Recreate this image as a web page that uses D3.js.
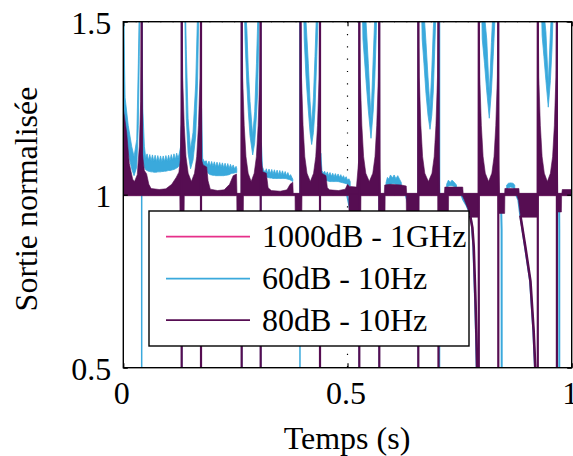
<!DOCTYPE html>
<html><head><meta charset="utf-8">
<script src="https://cdn.jsdelivr.net/npm/d3@7"></script>
</head><body style="margin:0"><svg id="c" width="573" height="456" font-family="Liberation Serif" style="font-family:'Liberation Serif',serif"></svg>
<script>
// ---------- data ----------
const xTicks = [0, 0.5, 1];
const yTicks = [0.5, 1, 1.5];
const seriesNames = ["1000dB - 1GHz", "60dB - 10Hz", "80dB - 10Hz"];
const seriesColors = ["#e6308a", "#3aa9dc", "#560d52"];
const xTitle = "Temps (s)";
const yTitle = "Sortie normalisée";

// 1000dB - 1GHz
const pinkLine = [[0, 1], [1, 1]];

// 80dB - 10Hz : upper envelope (filled down to 1)
const purpleUpper = [
 [0,1.25],[0.0075,1.18],[0.0134,1.09],[0.0209,1.045],[0.025,1.038],[0.0312,1.058],[0.0357,1.14],[0.0388,1.27],[0.0405,1.55],
 [0.0415,1.55],[0.0425,1.12],[0.047,1.07],[0.052,1.06],[0.057,1.03],[0.062,1.018],[0.08,1.015],[0.095,1.017],[0.108,1.03],[0.118,1.05],[0.124,1.065],[0.127,1.10],[0.1295,1.25],[0.1302,1.55],
 [0.1312,1.55],[0.1324,1.34],[0.1359,1.20],[0.1398,1.11],[0.1447,1.062],[0.1518,1.038],[0.1588,1.062],[0.1637,1.11],[0.1676,1.20],[0.1711,1.34],[0.1723,1.55],
 [0.1733,1.55],[0.1745,1.10],[0.178,1.086],[0.186,1.08],[0.189,1.04],[0.194,1.016],[0.21,1.012],[0.225,1.014],[0.237,1.03],[0.245,1.055],[0.2525,1.06],[0.2535,1.004],[0.2625,1.004],[0.2635,1.55],
 [0.2648,1.55],[0.2662,1.34],[0.2697,1.20],[0.2736,1.11],[0.2785,1.062],[0.2852,1.038],[0.2919,1.062],[0.2968,1.11],[0.3007,1.20],[0.3042,1.34],[0.3056,1.55],
 [0.3064,1.55],[0.308,1.10],[0.311,1.066],[0.319,1.062],[0.323,1.02],[0.33,1.012],[0.35,1.010],[0.365,1.014],[0.372,1.03],[0.378,1.036],[0.379,1.004],[0.394,1.004],[0.3946,1.55],
 [0.396,1.55],[0.3974,1.34],[0.4009,1.20],[0.4048,1.11],[0.4097,1.062],[0.417,1.038],[0.4243,1.062],[0.4292,1.11],[0.4331,1.20],[0.4366,1.34],[0.4379,1.55],
 [0.4387,1.55],[0.440,1.10],[0.4425,1.062],[0.452,1.055],[0.455,1.02],[0.46,1.014],[0.48,1.012],[0.495,1.016],[0.5,1.03],[0.505,1.024],[0.52,1.022],[0.525,1.10],[0.5258,1.55],
 [0.5271,1.55],[0.5285,1.34],[0.532,1.20],[0.5359,1.11],[0.5408,1.062],[0.5486,1.038],[0.5564,1.062],[0.5613,1.11],[0.5652,1.20],[0.5687,1.34],[0.5701,1.55],
 [0.5709,1.55],[0.5722,1.10],[0.5735,1.004],[0.582,1.004],[0.583,1.028],[0.595,1.03],[0.62,1.028],[0.631,1.025],[0.632,1.004],[0.657,1.004],[0.6575,1.55],
 [0.6587,1.55],[0.6601,1.34],[0.6636,1.20],[0.6675,1.11],[0.6724,1.062],[0.6804,1.038],[0.6884,1.062],[0.6933,1.11],[0.6972,1.20],[0.7007,1.34],[0.7021,1.55],
 [0.7029,1.55],[0.7042,1.10],[0.7055,1.004],[0.716,1.004],[0.717,1.022],[0.757,1.022],[0.758,1.004],[0.7915,1.004],[0.7922,1.55],
 [0.7936,1.55],[0.795,1.34],[0.7985,1.20],[0.8024,1.11],[0.8073,1.062],[0.8146,1.038],[0.8219,1.062],[0.8268,1.11],[0.8307,1.20],[0.8342,1.34],[0.8355,1.55],
 [0.8363,1.55],[0.8375,1.10],[0.839,1.004],[0.8505,1.004],[0.851,1.018],[0.8823,1.018],[0.883,1.004],[0.923,1.004],[0.9238,1.55],
 [0.9252,1.55],[0.9266,1.34],[0.9301,1.20],[0.934,1.11],[0.9389,1.062],[0.9457,1.038],[0.9525,1.062],[0.9574,1.11],[0.9613,1.20],[0.9648,1.34],[0.9662,1.55],
 [0.967,1.55],[0.968,1.10],[0.969,1.004],[0.978,1.004],[0.979,1.015],[1.0,1.015]
];
// 80dB - 10Hz : lower envelope (filled up to 1)
const purpleLower = [
 [0,0.997],[0.126,0.997],[0.1265,0.92],[0.1355,0.92],[0.136,0.997],
 [0.253,0.997],[0.2535,0.92],[0.2676,0.92],[0.268,0.997],
 [0.383,0.997],[0.3835,0.92],[0.398,0.92],[0.3985,0.997],
 [0.503,0.997],[0.5035,0.92],[0.5295,0.92],[0.53,0.997],
 [0.5705,0.997],[0.571,0.92],[0.5835,0.92],[0.584,0.997],
 [0.631,0.997],[0.6315,0.92],[0.6585,0.92],[0.659,0.997],
 [0.7025,0.997],[0.703,0.92],[0.725,0.92],[0.7255,0.997],
 [0.756,0.997],[0.7605,0.985],[0.7675,0.962],[0.7745,0.935],[0.7925,0.935],[0.793,0.997],
 [0.8363,0.997],[0.8368,0.946],[0.8505,0.946],[0.851,0.997],
 [0.878,0.997],[0.8815,0.983],[0.886,0.935],[0.9244,0.935],[0.925,0.997],
 [0.9675,0.997],[0.968,0.95],[0.977,0.95],[0.9775,0.997],[1,0.997]
];
// 80dB - 10Hz : falling branches below the filled part
const purpleFallC = [[0.7735,0.94],[0.7785,0.905],[0.7815,0.85],[0.7852,0.705],[0.7874,0.60],[0.789,0.50],[0.7893,0.45]];
const purpleFallE = [[0.8855,0.94],[0.897,0.846],[0.908,0.75],[0.9152,0.605],[0.9188,0.50],[0.92,0.45]];
// 80dB - 10Hz : jumps through the singularities
const purpleWalls = [0.1302,0.1733,0.2640,0.3064,0.4387,0.5263,0.5709,0.6579,0.7029,0.7928,0.8363,0.9244,0.9670];
const purpleWallsUpper = [0.041,0.3952];

// 60dB - 10Hz : band [t, low, high]; null separates pieces
const blueBand = [
 [0.001,1.20,1.50],[0.004,1.18,1.28],[0.011,1.12,1.20],[0.0187,1.075,1.14],[0.024,1.055,1.11],[0.030,1.08,1.16],[0.0335,1.20,1.38],[0.0357,1.40,1.55],[0.037,1.55,1.55],
 null,
 [0.0415,1.20,1.55],[0.0435,1.10,1.25],[0.047,1.08,1.14],[0.050,1.072,1.105],[0.053,1.07,1.118],[0.056,1.068,1.100],[0.059,1.067,1.116],[0.062,1.066,1.098],[0.065,1.066,1.115],[0.068,1.065,1.097],[0.071,1.065,1.114],[0.074,1.065,1.096],[0.077,1.066,1.113],[0.080,1.066,1.095],[0.083,1.066,1.112],[0.086,1.067,1.095],[0.089,1.067,1.112],[0.092,1.068,1.096],[0.095,1.068,1.113],[0.098,1.069,1.097],[0.101,1.07,1.114],[0.104,1.07,1.098],[0.107,1.071,1.116],[0.110,1.072,1.10],[0.113,1.073,1.118],[0.116,1.075,1.102],[0.119,1.077,1.12],[0.122,1.08,1.105],[0.125,1.085,1.12],[0.128,1.10,1.14],[0.1295,1.15,1.20],
 null,
 [0.137,1.55,1.55],[0.1385,1.40,1.55],[0.1405,1.22,1.42],[0.1445,1.12,1.22],[0.150,1.075,1.13],[0.1555,1.10,1.18],[0.1615,1.17,1.32],[0.1655,1.32,1.52],[0.1680,1.50,1.55],[0.169,1.55,1.55],
 null,
 [0.1745,1.10,1.25],[0.177,1.086,1.105],[0.181,1.084,1.095],[0.185,1.08,1.098],[0.188,1.065,1.085],[0.191,1.06,1.097],[0.194,1.058,1.083],[0.197,1.057,1.096],[0.200,1.056,1.082],[0.203,1.056,1.095],[0.206,1.055,1.081],[0.209,1.055,1.094],[0.212,1.055,1.080],[0.215,1.055,1.093],[0.218,1.055,1.079],[0.221,1.055,1.092],[0.224,1.055,1.078],[0.227,1.056,1.091],[0.230,1.056,1.077],[0.233,1.057,1.09],[0.236,1.058,1.076],[0.239,1.06,1.088],[0.242,1.062,1.076],[0.245,1.062,1.086],[0.248,1.063,1.075],[0.2515,1.064,1.082],[0.253,1.064,1.075],
 null,
 [0.270,1.55,1.55],[0.2715,1.45,1.55],[0.2755,1.32,1.48],[0.2788,1.24,1.36],[0.2826,1.17,1.27],[0.2886,1.115,1.17],[0.2930,1.15,1.24],[0.2970,1.23,1.38],[0.2997,1.30,1.50],[0.3020,1.45,1.55],[0.303,1.55,1.55],
 null,
 [0.308,1.07,1.15],[0.3105,1.066,1.08],[0.313,1.06,1.072],[0.316,1.055,1.064],[0.319,1.052,1.075],[0.322,1.05,1.062],[0.325,1.049,1.074],[0.328,1.048,1.061],[0.331,1.048,1.073],[0.334,1.047,1.060],[0.337,1.047,1.072],[0.340,1.047,1.059],[0.343,1.047,1.071],[0.346,1.047,1.058],[0.349,1.047,1.070],[0.352,1.047,1.057],[0.355,1.047,1.069],[0.358,1.047,1.056],[0.361,1.047,1.067],[0.364,1.046,1.055],[0.367,1.045,1.064],[0.370,1.044,1.053],[0.373,1.042,1.058],[0.376,1.04,1.05],[0.378,1.038,1.045],
 null,
 [0.402,1.55,1.55],[0.4035,1.45,1.55],[0.4075,1.34,1.50],[0.4126,1.245,1.38],[0.4165,1.18,1.27],[0.4201,1.145,1.20],[0.4240,1.18,1.28],[0.4275,1.245,1.40],[0.4315,1.40,1.55],[0.4340,1.50,1.55],[0.435,1.55,1.55],
 null,
 [0.4405,1.07,1.12],[0.443,1.058,1.07],[0.446,1.05,1.062],[0.449,1.045,1.068],[0.452,1.042,1.057],[0.455,1.04,1.066],[0.458,1.039,1.055],[0.461,1.038,1.064],[0.464,1.038,1.053],[0.467,1.038,1.062],[0.470,1.038,1.052],[0.473,1.038,1.061],[0.476,1.038,1.051],[0.479,1.038,1.06],[0.482,1.037,1.05],[0.485,1.036,1.058],[0.488,1.035,1.048],[0.491,1.034,1.055],[0.494,1.033,1.046],[0.497,1.032,1.052],[0.500,1.03,1.042],[0.503,1.028,1.046],[0.506,1.025,1.038],
 null,
 [0.533,1.55,1.55],[0.5345,1.45,1.55],[0.5413,1.33,1.50],[0.5464,1.245,1.38],[0.5524,1.163,1.22],[0.5575,1.245,1.40],[0.5610,1.34,1.52],[0.5640,1.46,1.55],[0.5655,1.55,1.55],
 null,
 [0.586,1.02,1.035],[0.589,1.028,1.05],[0.592,1.03,1.045],[0.596,1.03,1.057],[0.600,1.032,1.048],[0.604,1.032,1.057],[0.608,1.03,1.046],[0.612,1.028,1.055],[0.616,1.026,1.045],[0.62,1.02,1.035],
 null,
 [0.665,1.55,1.55],[0.6665,1.45,1.55],[0.6705,1.38,1.53],[0.675,1.293,1.44],[0.6795,1.23,1.34],[0.684,1.189,1.25],[0.6880,1.23,1.36],[0.6914,1.30,1.48],[0.6945,1.42,1.55],[0.6965,1.50,1.55],[0.6975,1.55,1.55],
 null,
 [0.721,1.018,1.03],[0.725,1.025,1.042],[0.729,1.026,1.035],[0.733,1.026,1.042],[0.738,1.024,1.036],[0.743,1.018,1.028],
 null,
 [0.799,1.55,1.55],[0.8005,1.45,1.55],[0.8055,1.38,1.52],[0.8105,1.30,1.45],[0.8162,1.221,1.29],[0.821,1.30,1.44],[0.825,1.40,1.55],[0.8285,1.50,1.55],[0.8295,1.55,1.55],
 null,
 [0.855,1.016,1.028],[0.859,1.02,1.033],[0.864,1.022,1.034],[0.869,1.02,1.033],[0.873,1.016,1.028],
 null,
 [0.9325,1.55,1.55],[0.934,1.46,1.55],[0.938,1.40,1.53],[0.9425,1.33,1.47],[0.9478,1.253,1.32],[0.9525,1.33,1.47],[0.956,1.42,1.55],[0.958,1.50,1.55],[0.959,1.55,1.55]
];
// 60dB - 10Hz : jumps and falling branches
const blueWalls = [0.041,0.1302,0.1733,0.2640,0.3064,0.394,0.4387,0.5263,0.5709,0.6579,0.7052];
const blueWallsUpper = [0.0007];
const blueFallA = [[0.499,1.0],[0.503,0.975],[0.506,0.955],[0.509,0.92]];
const blueFallB = [[0.630,1.0],[0.635,0.975],[0.640,0.955],[0.645,0.90]];
const blueFallC = [[0.754,1.0],[0.7583,0.985],[0.766,0.968],[0.7732,0.946],[0.7775,0.91],[0.7806,0.85],[0.7843,0.705],[0.7865,0.60],[0.7881,0.50],[0.7885,0.45]];
const blueFallD = [[0.8405,1.0],[0.8425,0.97],[0.8437,0.9],[0.8439,0.45]];
const blueFallE = [[0.876,1.0],[0.881,0.985],[0.8847,0.946],[0.8958,0.85],[0.907,0.753],[0.9144,0.609],[0.918,0.503],[0.9195,0.45]];
const blueFallF = [[0.9705,1.0],[0.972,0.97],[0.9723,0.9],[0.9723,0.45]];

// ---------- drawing ----------
const svg = d3.select("#c");
const L = 123.3, R = 571.7, T = 21.7, B = 367.7;
const x = d3.scaleLinear().domain([0, 1]).range([L, R]);
const y = d3.scaleLinear().domain([0.5, 1.5]).range([B, T]);
const [cPink, cBlue, cPurple] = seriesColors;
const FONT = "Liberation Serif";
const setFont = sel => sel.attr("font-family", FONT).style("font-family", "'Liberation Serif', serif");

svg.append("defs").append("clipPath").attr("id", "clip")
  .append("rect").attr("x", L).attr("y", T).attr("width", R - L).attr("height", B - T);

// dotted grid
const grid = svg.append("g").attr("clip-path", "url(#clip)");
grid.selectAll("line.gx").data(xTicks).join("line")
  .attr("x1", d => x(d)).attr("x2", d => x(d)).attr("y1", T).attr("y2", B)
  .attr("stroke", "#000").attr("stroke-width", 1.2).attr("stroke-dasharray", "1.2,11.1");
grid.selectAll("line.gy").data(yTicks).join("line")
  .attr("y1", d => y(d)).attr("y2", d => y(d)).attr("x1", L).attr("x2", R)
  .attr("stroke", "#000").attr("stroke-width", 1.2).attr("stroke-dasharray", "1.2,11.1");

const plot = svg.append("g").attr("clip-path", "url(#clip)");
const line = d3.line().x(d => x(d[0])).y(d => y(d[1]));

// pink
plot.append("path").attr("d", line(pinkLine)).attr("fill", "none").attr("stroke", cPink).attr("stroke-width", 1.6);

// blue
plot.selectAll("line.bw").data(blueWalls).join("line")
  .attr("x1", d => x(d)).attr("x2", d => x(d)).attr("y1", y(0.45)).attr("y2", y(1.55))
  .attr("stroke", cBlue).attr("stroke-width", 1.5);
plot.selectAll("line.bwu").data(blueWallsUpper).join("line")
  .attr("x1", d => x(d)).attr("x2", d => x(d)).attr("y1", y(1.0)).attr("y2", y(1.55))
  .attr("stroke", cBlue).attr("stroke-width", 1.5);
const bandArea = d3.area().defined(d => d !== null)
  .x(d => x(d[0])).y0(d => y(d[1])).y1(d => y(d[2]));
plot.append("path").attr("d", bandArea(blueBand)).attr("fill", cBlue)
  .attr("stroke", cBlue).attr("stroke-width", 0.8).attr("stroke-linejoin", "round");
[blueFallA, blueFallB, blueFallC, blueFallD, blueFallE, blueFallF].forEach(arr => {
  plot.append("path").attr("d", line(arr)).attr("fill", "none").attr("stroke", cBlue).attr("stroke-width", 2);
});

// purple
const upArea = d3.area().x(d => x(d[0])).y0(y(1.0)).y1(d => y(d[1]));
const loArea = d3.area().x(d => x(d[0])).y0(d => y(d[1])).y1(y(1.003));
plot.append("path").attr("d", upArea(purpleUpper)).attr("fill", cPurple).attr("stroke", cPurple).attr("stroke-width", 0.6);
plot.append("path").attr("d", loArea(purpleLower)).attr("fill", cPurple).attr("stroke", cPurple).attr("stroke-width", 0.6);
[purpleFallC, purpleFallE].forEach(arr => {
  plot.append("path").attr("d", line(arr)).attr("fill", "none").attr("stroke", cPurple).attr("stroke-width", 2.6);
});
plot.selectAll("line.pw").data(purpleWalls).join("line")
  .attr("x1", d => x(d)).attr("x2", d => x(d)).attr("y1", y(0.45)).attr("y2", y(1.55))
  .attr("stroke", cPurple).attr("stroke-width", 2.2);
plot.selectAll("line.pwu").data(purpleWallsUpper).join("line")
  .attr("x1", d => x(d)).attr("x2", d => x(d)).attr("y1", y(1.0)).attr("y2", y(1.55))
  .attr("stroke", cPurple).attr("stroke-width", 2.2);

// axes (inward ticks)
const fs = 32;
const xAx = svg.append("g").attr("transform", `translate(0,${B})`)
  .call(d3.axisBottom(x).tickValues(xTicks).tickFormat(d3.format("")).tickSizeInner(-4.5).tickSizeOuter(0).tickPadding(14));
const xAxTop = svg.append("g").attr("transform", `translate(0,${T})`)
  .call(d3.axisTop(x).tickValues(xTicks).tickFormat("").tickSizeInner(-4.5).tickSizeOuter(0));
const yAx = svg.append("g").attr("transform", `translate(${L},0)`)
  .call(d3.axisLeft(y).tickValues(yTicks).tickFormat(d3.format("")).tickSizeInner(-4.5).tickSizeOuter(0).tickPadding(12));
const yAxR = svg.append("g").attr("transform", `translate(${R},0)`)
  .call(d3.axisRight(y).tickValues(yTicks).tickFormat("").tickSizeInner(-4.5).tickSizeOuter(0));
[xAx, xAxTop, yAx, yAxR].forEach(g => {
  g.attr("font-size", fs).call(setFont);
  g.select(".domain").remove();
  g.selectAll(".tick line").attr("stroke", "#000").attr("stroke-width", 1.2);
  g.selectAll("text").attr("font-size", fs).attr("fill", "#000").call(setFont);
});
yAx.selectAll("text").attr("dy", "0.38em");
xAx.selectAll("text").attr("dx", "-2");

// frame
svg.append("rect").attr("x", L).attr("y", T).attr("width", R - L).attr("height", B - T)
  .attr("fill", "none").attr("stroke", "#000").attr("stroke-width", 1.4);

// titles
svg.append("text").attr("x", 347).attr("y", 448.5).attr("text-anchor", "middle")
  .attr("font-size", fs).attr("fill", "#000").call(setFont).text(xTitle);
svg.append("text").attr("transform", "translate(36.5,199) rotate(-90)").attr("text-anchor", "middle")
  .attr("font-size", fs).attr("fill", "#000").call(setFont).text(yTitle);

// legend
const lg = svg.append("g");
lg.append("rect").attr("x", 149).attr("y", 211).attr("width", 320).attr("height", 135)
  .attr("fill", "#fff").attr("stroke", "#000").attr("stroke-width", 1.4);
const rowsY = [236.7, 278.7, 320.2];
seriesNames.forEach((n, i) => {
  lg.append("line").attr("x1", 166).attr("x2", 250).attr("y1", rowsY[i]).attr("y2", rowsY[i])
    .attr("stroke", seriesColors[i]).attr("stroke-width", 1.7);
  lg.append("text").attr("x", 262).attr("y", rowsY[i] + 10.5)
    .attr("font-size", fs).attr("fill", "#000").call(setFont).text(n);
});
</script></body></html>
